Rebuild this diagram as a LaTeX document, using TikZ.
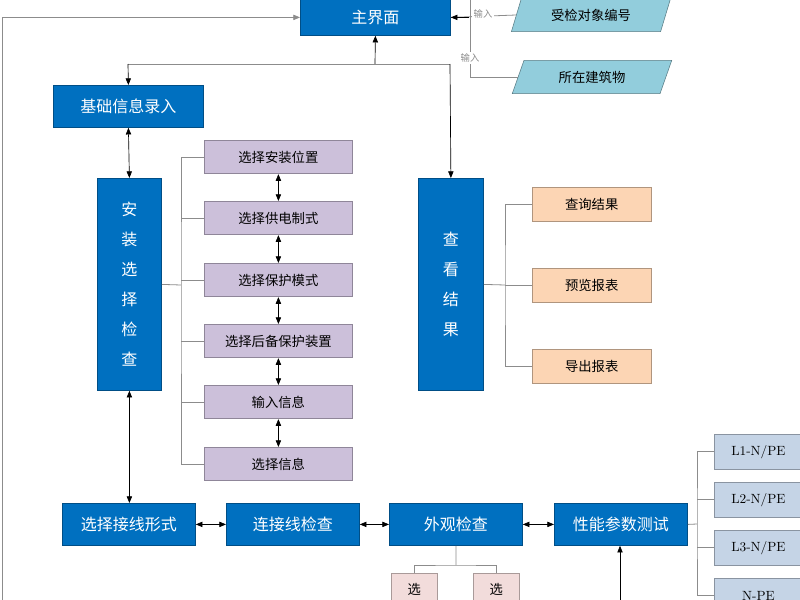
\documentclass[tikz,border=0pt]{standalone}
\usepackage{fontspec}
\newfontfamily\cjk{Noto Sans CJK SC}
\usetikzlibrary{arrows.meta,shapes.geometric}
\definecolor{bl}{HTML}{0070C0}
\definecolor{pu}{HTML}{CCC0DA}
\definecolor{orr}{HTML}{FCD5B4}
\definecolor{st}{HTML}{C5D4E6}
\definecolor{pa}{HTML}{92CDDC}
\definecolor{pk}{HTML}{F2DCDB}
\definecolor{ln}{HTML}{8C8C8C}
\begin{document}
\begin{tikzpicture}[x=0.75pt,y=-0.75pt,font=\cjk,
 box/.style={draw=#1!70!black,line width=0.6pt,anchor=north west,inner sep=0pt,align=center},
 bb/.style={box=bl,fill=bl,text=white,font=\cjk\fontsize{12}{22.5}\selectfont},
 pb/.style={box=pu,fill=pu,font=\cjk\fontsize{10}{12}\selectfont},
 ob/.style={box=orr,fill=orr,font=\cjk\fontsize{10}{12}\selectfont},
 sb/.style={box=st,fill=st,font=\fontsize{10}{12}\selectfont},
 kb/.style={box=pk,fill=pk,font=\cjk\fontsize{10}{12}\selectfont},
 para/.style={trapezium,trapezium left angle=65,trapezium right angle=115,draw=pa!60!black,fill=pa,minimum height=25pt,inner sep=0pt,font=\cjk\fontsize{10}{12}\selectfont,trapezium stretches=true,minimum width=120pt},
 ar/.style={-{Triangle[length=5pt,width=4pt]},line width=0.5pt},
 dar/.style={{Triangle[length=5pt,width=4pt]}-{Triangle[length=5pt,width=4pt]},line width=0.5pt},
 gl/.style={draw=ln,line width=0.6pt},
 lab/.style={font=\cjk\fontsize{7}{8}\selectfont,text=ln,inner sep=1pt,fill=white}]
\clip (0,0) rectangle (800,600);
\fill[white] (0,0) rectangle (800,600);
% top
\node[bb,minimum width=112.5pt,minimum height=27pt] (main) at (300,-1) {主界面};
\node[para] (p1) at (591,15) {受检对象编号};
\node[para] (p2) at (592,77) {所在建筑物};
\node[bb,minimum width=112.5pt,minimum height=31.5pt] (base) at (53,85) {基础信息录入};
\node[bb,minimum width=48pt,minimum height=159pt] (inst) at (97,178) {安\\装\\选\\择\\检\\查};
\node[bb,minimum width=48.75pt,minimum height=159pt] (view) at (418,178) {查\\看\\结\\果};
% purple
\foreach \n/\y/\t in {a/140/选择安装位置,b/201/选择供电制式,c/263/选择保护模式,d/324/选择后备保护装置,e/385/输入信息,f/447/选择信息}
  \node[pb,minimum width=111pt,minimum height=25pt] (\n) at (204,\y) {\t};
\foreach \u/\v in {a/b,b/c,c/d,d/e,e/f} \draw[dar] (\u.south) -- (\v.north);
% orange
\foreach \n/\y/\t in {q/187/查询结果,r/268/预览报表,s/349/导出报表}
  \node[ob,minimum width=89pt,minimum height=25.5pt] (\n) at (532,\y) {\t};
% bottom row
\foreach \n/\x/\t in {w1/62/选择接线形式,w2/226/连接线检查,w3/389/外观检查,w4/554/性能参数测试}
  \node[bb,minimum width=99.75pt,minimum height=31.5pt] (\n) at (\x,503) {\t};
\foreach \u/\v in {w1/w2,w2/w3,w3/w4} \draw[dar] (\u.east) -- (\v.west);
% right column
\foreach \n/\y/\t in {l1/434/{L1-N/PE},l2/482/{L2-N/PE},l3/530/{L3-N/PE},l4/578/{N-PE}}
  \node[sb,minimum width=66pt,minimum height=26pt] (\n) at (714,\y) {\t};
% pink
\node[kb,minimum width=34.5pt,minimum height=40pt,anchor=north west] (k1) at (391,573) {};
\node[kb,minimum width=34.5pt,minimum height=40pt,anchor=north west] (k2) at (473,573) {};
\node[font=\cjk\fontsize{10}{12}\selectfont,anchor=north] (k1t) at ([yshift=-4pt]k1.north) {选};
\node[font=\cjk\fontsize{10}{12}\selectfont,anchor=north] (k2t) at ([yshift=-4pt]k2.north) {选};
\coordinate (bend) at (620,610);
% connectors
\coordinate (lc) at (2,620);
\draw[ar,draw=ln] (lc) |- (main.west);
\draw[gl] (p1.west) -- (main.east);
\draw[ar] ([xshift=14pt]main.east) -- (main.east);
\node[lab] (in1) at (483,14) {输入};
\draw[gl] (p2.west) -| (470,0);
\node[lab] (in2) at (470,58) {输入};
\draw[ar] (375,64) -- (main.south);
\draw[gl] (128,64) -- (450,64);
\draw[ar] (128,64) -- (base.north);
\draw[ar] (450,64) -- (view.north);
\draw[dar] (base.south) -- (inst.north);
\draw[dar] (inst.south) -- (w1.north -| inst.south);
\draw[gl] (inst.east) -- (181,285);
\draw[gl] (a.west) -| (181,285) |- (f.west);
\foreach \n in {b,c,d,e} \draw[gl] (181,0 |- \n.west) -- (\n.west);
\draw[gl] (view.east) -- (505,285);
\draw[gl] (q.west) -| (505,285) |- (s.west);
\draw[gl] (505,0 |- r.west) -- (r.west);
\draw[gl] (w4.east) -- (697,524);
\draw[gl] (l1.west) -| (697,524) |- (l4.west);
\foreach \n in {l2,l3} \draw[gl] (697,0 |- \n.west) -- (\n.west);
\draw[gl] (w3.south) -- (456,565);
\draw[gl] (k1.north) |- (456,565) -| (k2.north);
\draw[dar] (w4.south -| bend) -- (bend);
\end{tikzpicture}
\end{document}
